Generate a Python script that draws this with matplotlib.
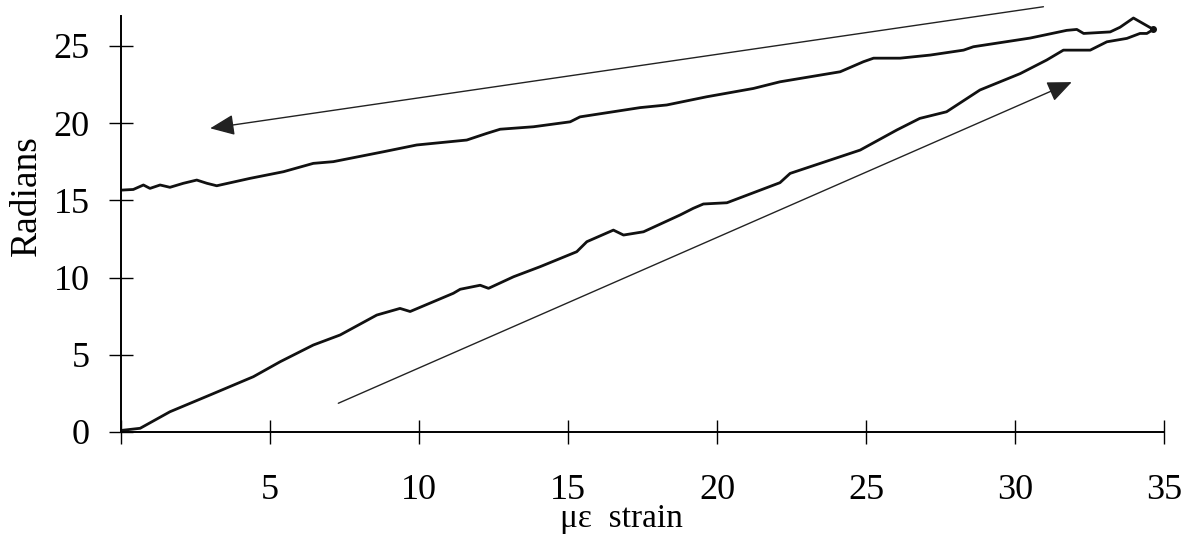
import numpy as np
import matplotlib.pyplot as plt

plt.rcParams["font.family"] = ["Liberation Serif", "DejaVu Serif"]

# loading branch (strain rising)
load_x = [0.0, 0.64, 1.64, 2.99, 4.44, 5.34, 6.45, 7.35, 8.58, 9.36, 9.7, 11.15,
          11.38, 12.05, 12.33, 13.17, 14.06, 15.29, 15.63, 16.52, 16.86, 17.53,
          18.76, 19.2, 19.54, 20.33, 22.11, 22.45, 24.8, 26.03, 26.8, 27.7, 28.82,
          30.17, 31.06, 31.62, 32.52, 33.08, 33.75, 34.19, 34.42, 34.64]
load_y = [0.1, 0.24, 1.31, 2.4, 3.58, 4.55, 5.63, 6.28, 7.57, 8.0, 7.8, 8.98,
          9.24, 9.5, 9.3, 10.05, 10.7, 11.67, 12.32, 13.07, 12.75, 12.96,
          14.05, 14.48, 14.76, 14.84, 16.14, 16.74, 18.25, 19.55, 20.3, 20.73, 22.14,
          23.2, 24.08, 24.72, 24.72, 25.26, 25.48, 25.8, 25.8, 26.06]

# unloading branch (strain falling back)
unload_x = [34.64, 33.97, 33.52, 33.19, 32.3, 32.07, 31.73, 30.5, 28.6, 28.27,
            27.15, 26.14, 25.25, 24.91, 24.13, 22.11, 21.22, 19.65, 18.31, 17.42,
            15.4, 15.07, 13.84, 12.72, 12.27, 11.6, 9.92, 8.8, 7.12, 6.45, 5.45,
            4.33, 3.21, 2.88, 2.54, 2.09, 1.64, 1.31, 0.97, 0.75, 0.41, 0.02]
unload_y = [26.06, 26.8, 26.2, 25.9, 25.8, 26.06, 26.0, 25.5, 24.94, 24.72,
            24.4, 24.2, 24.2, 23.97, 23.32, 22.67, 22.24, 21.7, 21.17, 21.0,
            20.4, 20.08, 19.76, 19.6, 19.33, 18.9, 18.58, 18.14, 17.5, 17.39, 16.85,
            16.42, 15.94, 16.1, 16.31, 16.1, 15.84, 15.99, 15.77, 15.99, 15.7, 15.66]

xticks = [0, 5, 10, 15, 20, 25, 30, 35]
xtick_labels = ["", "5", "10", "15", "20", "25", "30", "35"]
yticks = [0, 5, 10, 15, 20, 25]

fig = plt.figure(figsize=(12.01, 5.46), dpi=100)
ax = fig.add_axes([0.1008, 0.2088, 0.8685, 0.7619])

ax.plot(load_x, load_y, color="#111111", lw=2.0)
ax.plot(unload_x, unload_y, color="#111111", lw=2.0)
ax.plot(load_x[-1], load_y[-1], "o", color="#111111", ms=4)

arrow = dict(arrowstyle="-|>,head_length=0.75,head_width=0.32", color="#222222",
             lw=1.0, mutation_scale=20, shrinkA=0, shrinkB=0)
ax.annotate("", xy=(2.99, 19.66), xytext=(30.95, 27.53), arrowprops=arrow,
            annotation_clip=False)
ax.annotate("", xy=(31.9, 22.65), xytext=(7.29, 1.86), arrowprops=arrow,
            annotation_clip=False)

ax.set_xlim(0, 35)
ax.set_ylim(0, 26.93)
ax.set_xticks(xticks)
ax.set_xticklabels(xtick_labels)
ax.set_yticks(yticks)
ax.tick_params(direction="inout", length=17, width=1.0, labelsize=26)
ax.tick_params(axis="x", pad=22)
ax.tick_params(axis="y", pad=14)

for s in ["top", "right"]:
    ax.spines[s].set_visible(False)
for s in ["left", "bottom"]:
    ax.spines[s].set_linewidth(1.4)

fig.text(27 / 1201, 1 - 196 / 546, "Radians", rotation=90, ha="center",
         va="center", fontsize=27)
fig.text(621 / 1201, 1 - 519 / 546, "με  strain", ha="center", va="center",
         fontsize=24)

fig.savefig("out.png", dpi=100, facecolor="white")
